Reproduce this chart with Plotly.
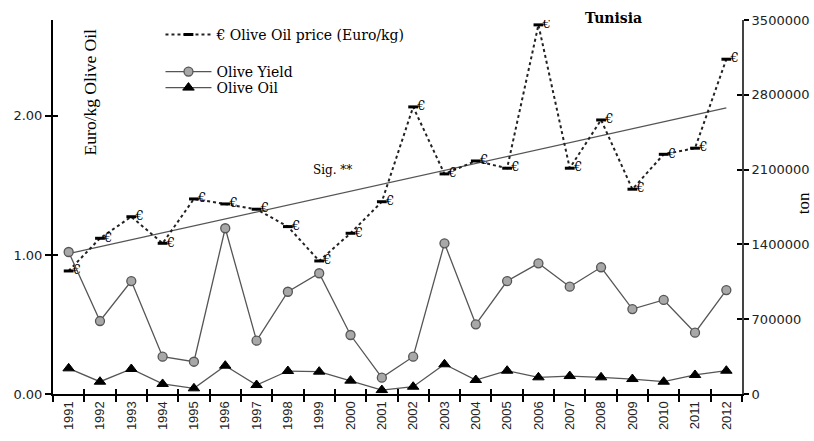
import numpy as np
import plotly.graph_objects as go

years = [str(y) for y in range(1991, 2013)]
price = [0.885, 1.12, 1.275, 1.084, 1.403, 1.367, 1.329, 1.204, 0.957, 1.156, 1.383,
         2.065, 1.583, 1.676, 1.624, 2.655, 1.624, 1.971, 1.473, 1.724, 1.768, 2.408]
olive_yield = [1329000, 683000, 1057000, 349000, 302000, 1551000, 499000, 957000, 1130000,
               552000, 153000, 349000, 1410000, 652000, 1057000, 1223000, 1004000, 1186000,
               795000, 880000, 574000, 973000]
olive_oil = [240000, 115000, 234000, 94000, 53000, 265000, 84000, 215000, 209000, 125000,
             37000, 68000, 278000, 131000, 218000, 156000, 168000, 156000, 140000, 115000,
             178000, 218000]
left_ticks = [0, 1, 2]
right_ticks = [0, 700000, 1400000, 2100000, 2800000, 3500000]

idx = np.arange(len(years))
slope, intercept = np.polyfit(idx, price, 1)
trend = list(slope * idx + intercept)

SERIF = "Liberation Serif"
WSERIF = "DejaVu Serif"
SANS = "Liberation Sans"
WSANS = "DejaVu Sans"

fig = go.Figure()

fig.add_trace(go.Scatter(
    x=years, y=olive_yield, yaxis="y2", mode="lines+markers", name="Olive Yield",
    line=dict(color="#555555", width=1.3),
    marker=dict(symbol="circle", size=9, color="#a8a8a8", line=dict(color="#555555", width=1.3)),
    legend="legend2"))
fig.add_trace(go.Scatter(
    x=years, y=olive_oil, yaxis="y2", mode="lines+markers", name="Olive Oil",
    line=dict(color="#555555", width=1.3),
    marker=dict(symbol="triangle-up", size=10, color="black", line=dict(color="black", width=1)),
    legend="legend3"))
fig.add_trace(go.Scatter(
    x=years, y=trend, mode="lines", showlegend=False,
    line=dict(color="#555555", width=1.3)))
fig.add_trace(go.Scatter(
    x=years, y=price, mode="lines+markers", name="€ Olive Oil price (Euro/kg)",
    line=dict(color="#222222", width=2, dash="dot"),
    marker=dict(symbol="line-ew", size=7, line=dict(color="black", width=3)),
    legend="legend"))
fig.add_trace(go.Scatter(
    x=years, y=price, mode="text", text=["\u00a0€"] * len(years), textposition="middle right",
    textfont=dict(family=WSERIF, size=13, color="black"), showlegend=False))
# invisible traces to carry the overlay axes that draw the inner half of the crossing ticks
fig.add_trace(go.Scatter(x=years, y=price, xaxis="x2", yaxis="y3", mode="none",
                         showlegend=False, hoverinfo="skip"))
fig.add_trace(go.Scatter(x=years, y=olive_yield, xaxis="x2", yaxis="y4", mode="none",
                         showlegend=False, hoverinfo="skip"))

tick_common = dict(tickcolor="black", tickwidth=1.5, showgrid=False, zeroline=False,
                   automargin=False)

leg_common = dict(x=0.156, xanchor="left", yanchor="middle", bgcolor="rgba(0,0,0,0)",
                  font=dict(family=WSERIF, size=14), itemwidth=46)

fig.update_layout(
    width=814, height=441,
    margin=dict(l=53, r=72, t=20, b=47),
    paper_bgcolor="white", plot_bgcolor="white",
    font=dict(family=SERIF, size=13, color="black"),
    xaxis=dict(type="category", tickson="boundaries", ticks="outside", ticklen=6,
               tickangle=-90, tickfont=dict(family=SANS, size=13, color="#222"),
               showline=True, linecolor="black", linewidth=2,
               range=[-0.5, 21.5], **tick_common),
    xaxis2=dict(type="category", tickson="boundaries", ticks="inside", ticklen=5,
                showticklabels=False, overlaying="x", anchor="y",
                range=[-0.5, 21.5], **tick_common),
    yaxis=dict(range=[0, 2.69], tickvals=left_ticks, tickformat=".2f", ticks="outside",
               ticklen=6, tickfont=dict(family=WSANS, size=13, color="#222"),
               showline=True, linecolor="black", linewidth=2, **tick_common),
    yaxis3=dict(range=[0, 2.69], tickvals=left_ticks, ticks="inside", ticklen=5,
                showticklabels=False, overlaying="y", side="left", anchor="x", **tick_common),
    yaxis2=dict(range=[0, 3500000], tickvals=right_ticks, tickformat="d", overlaying="y",
                side="right", ticks="outside", ticklen=5,
                tickfont=dict(family=WSANS, size=13, color="#222"),
                showline=True, linecolor="#444", linewidth=2, **tick_common),
    yaxis4=dict(range=[0, 3500000], tickvals=right_ticks, ticks="inside", ticklen=5,
                showticklabels=False, overlaying="y", side="right", anchor="x", **tick_common),
    legend=dict(y=(394 - 35) / 374, **leg_common),
    legend2=dict(y=(394 - 72) / 374, **leg_common),
    legend3=dict(y=(394 - 88) / 374, **leg_common),
    annotations=[
        dict(text="<b>Tunisia</b>", xref="paper", yref="paper", x=0.814, y=1.005,
             xanchor="center", yanchor="middle",
             showarrow=False, font=dict(family=WSERIF, size=14)),
        dict(text="Sig. **", xref="paper", yref="paper", x=0.405, y=0.6,
             xanchor="center", yanchor="middle",
             showarrow=False, font=dict(family=WSERIF, size=12)),
        dict(text="Euro/kg Olive Oil", xref="paper", yref="paper", x=0.054, y=0.807,
             xanchor="center", yanchor="middle",
             textangle=-90, showarrow=False, font=dict(family=SERIF, size=17.5)),
        dict(text="ton", xref="paper", yref="paper", x=1.0885, y=0.51,
             xanchor="center", yanchor="middle",
             textangle=-90, showarrow=False, font=dict(family=SERIF, size=17)),
    ],
)

fig.write_html("out.html", config={"displayModeBar": False},
               post_script="document.body.style.margin='0px';")
